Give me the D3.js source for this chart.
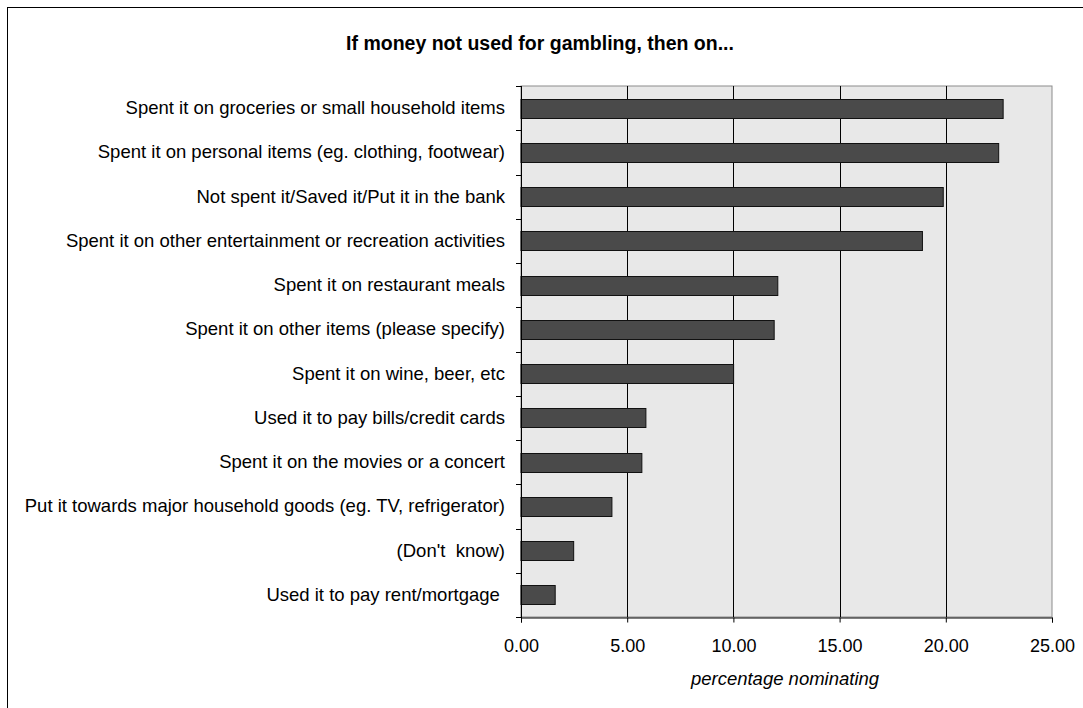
<!DOCTYPE html>
<html lang="en">
<head>
  <meta charset="UTF-8">
  <title>If money not used for gambling</title>
  <style>
    body {
      margin: 0;
      background: #fff;
      font-family: Arial, "Liberation Sans", sans-serif;
    }
    svg { display: block; }
    .cat text { font-size: 18.5px; fill: #000; white-space: pre; }
    .xax text { font-size: 18px; fill: #000; }
  </style>
</head>
<body>
  <svg width="1083" height="708"></svg>

  <script src="https://d3js.org/d3.v7.min.js"></script>
  <script>
    // data, top to bottom
    const categories = [
      "Spent it on groceries or small household items",
      "Spent it on personal items (eg. clothing, footwear)",
      "Not spent it/Saved it/Put it in the bank",
      "Spent it on other entertainment or recreation activities",
      "Spent it on restaurant meals",
      "Spent it on other items (please specify)",
      "Spent it on wine, beer, etc",
      "Used it to pay bills/credit cards",
      "Spent it on the movies or a concert",
      "Put it towards major household goods (eg. TV, refrigerator)",
      "(Don't  know)",
      "Used it to pay rent/mortgage "
    ];
    const values = [22.70, 22.49, 19.88, 18.90, 12.09, 11.92, 10.01, 5.88, 5.69, 4.28, 2.48, 1.61];
    const xTicks = [0, 5, 10, 15, 20, 25];

    const svg = d3.select("svg");
    const pLeft = 521, pRight = 1052, pTop = 86, pBottom = 617;

    // outer frame (only left/top edges visible in the picture)
    svg.append("rect")
      .attr("x", 7.5).attr("y", 7.5)
      .attr("width", 1100).attr("height", 720)
      .attr("fill", "none").attr("stroke", "#000").attr("stroke-width", 1);

    svg.append("text")
      .attr("x", 540).attr("y", 50)
      .attr("text-anchor", "middle")
      .style("font-size", "19.5px").style("font-weight", "bold")
      .text("If money not used for gambling, then on...");

    const x = d3.scaleLinear().domain([0, 25]).range([pLeft, pRight]);
    const y = d3.scaleBand().domain(categories).range([pTop, pBottom]).paddingInner(0.57).paddingOuter(0.285);
    const yb = d3.scaleBand().domain(categories).range([pTop, pBottom]);

    // plot area
    svg.append("rect")
      .attr("x", pLeft).attr("y", pTop)
      .attr("width", pRight - pLeft).attr("height", pBottom - pTop)
      .attr("fill", "#e8e8e8").attr("stroke", "#8c8c8c");

    // grid
    svg.append("g")
      .selectAll("line")
      .data(xTicks.slice(1, -1))
      .join("line")
      .attr("x1", d => Math.round(x(d)) + 0.5).attr("x2", d => Math.round(x(d)) + 0.5)
      .attr("y1", pTop).attr("y2", pBottom)
      .attr("stroke", "#000");

    // bars
    svg.append("g")
      .selectAll("rect")
      .data(values)
      .join("rect")
      .attr("x", x(0))
      .attr("y", (d, i) => Math.round(y(categories[i])) + 0.5)
      .attr("width", d => x(d) - x(0))
      .attr("height", Math.round(y.bandwidth()))
      .attr("fill", "#4a4a4a")
      .attr("stroke", "#111")
      .attr("stroke-width", 1);

    // y axis
    const ya = svg.append("g").attr("class", "cat");
    ya.append("line")
      .attr("x1", pLeft + 0.5).attr("x2", pLeft + 0.5)
      .attr("y1", pTop).attr("y2", pBottom + 5)
      .attr("stroke", "#000");
    ya.selectAll("line.tk")
      .data(categories.concat(["_end"]))
      .join("line")
      .attr("class", "tk")
      .attr("x1", pLeft - 5).attr("x2", pLeft)
      .attr("y1", (d, i) => Math.round(pTop + i * yb.step()) + 0.5)
      .attr("y2", (d, i) => Math.round(pTop + i * yb.step()) + 0.5)
      .attr("stroke", "#000");
    ya.selectAll("text")
      .data(categories)
      .join("text")
      .attr("x", 505)
      .attr("y", d => yb(d) + yb.bandwidth() / 2)
      .attr("dy", "0.33em")
      .attr("text-anchor", "end")
      .text(d => d);

    // x axis
    const xa = svg.append("g")
      .attr("class", "xax")
      .attr("transform", `translate(0,${pBottom + 0.5})`)
      .call(d3.axisBottom(x).tickValues(xTicks).tickFormat(d3.format(".2f")).tickSizeOuter(0).tickSize(5).tickPadding(17));
    xa.select(".domain").attr("stroke", "#000");
    xa.selectAll("text").attr("font-family", null);

    svg.append("text")
      .attr("x", 785).attr("y", 685)
      .attr("text-anchor", "middle")
      .style("font-size", "18.5px").style("font-style", "italic")
      .text("percentage nominating");
  </script>
</body>
</html>
